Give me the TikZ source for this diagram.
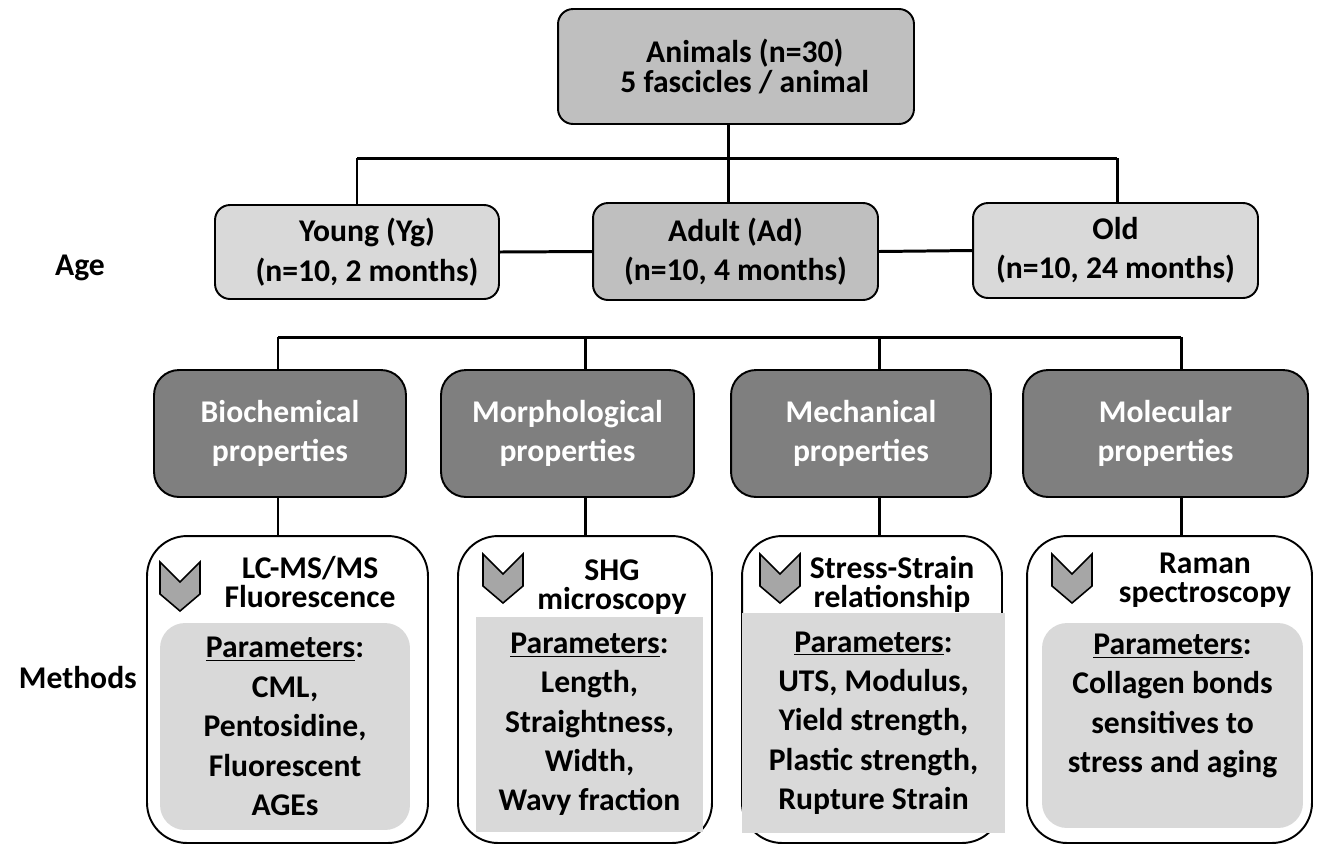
\documentclass[tikz,border=0pt]{standalone}
\usepackage{fontspec}
\setmainfont{Carlito}
\usepackage{tikz}
\usetikzlibrary{positioning}

\definecolor{boxmid}{HTML}{BFBFBF}
\definecolor{boxlight}{HTML}{D9D9D9}
\definecolor{boxdark}{HTML}{7F7F7F}
\definecolor{chevfill}{HTML}{A6A6A6}

\tikzset{
  conn/.style={line width=1.7pt},
  agebox/.style={draw, line width=1.1pt, rounded corners=0.3cm, align=center, inner sep=0pt},
  propbox/.style={draw, line width=1.1pt, fill=boxdark, text=white, rounded corners=0.5cm,
    align=center, minimum height=2.54cm, inner sep=0pt,
    execute at begin node={\rule{0pt}{20pt}}},
  methbox/.style={draw, line width=1.1pt, fill=white, rounded corners=0.8cm,
    minimum height=6.14cm, inner sep=0pt},
  parbox/.style={fill=boxlight, align=center, inner sep=0pt},
  headtext/.style={align=center, font=\fontsize{18}{16.6}\selectfont\bfseries},
  chevron/.style={draw, line width=0.9pt, fill=chevfill, line join=miter}
}

% chevron icon, #1/#2 = top left corner
\newcommand{\chev}[2]{\draw[chevron] (#1,#2) -- ++(20,20) -- ++(20,-20) -- ++(0,32)
  -- ++(-20,17) -- ++(-20,-17) -- cycle;}

\begin{document}
\begin{tikzpicture}[x=0.02cm, y=-0.02cm, font=\fontsize{18}{22.4}\selectfont\bfseries]
  \useasboundingbox (0,0) rectangle (1318,846);

  % animals and age groups
  \node[agebox, fill=boxmid, minimum width=7.12cm, minimum height=2.3cm,
    font=\fontsize{18}{17}\selectfont\bfseries] (animals) at (736,66.5)
    {\hspace*{0.35cm}Animals (n=30)\\\hspace*{0.35cm}5 fascicles / animal};
  \node[agebox, fill=boxlight, minimum width=5.68cm, minimum height=1.88cm] (young) at (357,252)
    {\hspace*{0.4cm}Young (Yg)\\\hspace*{0.4cm}(n=10, 2 months)};
  \node[agebox, fill=boxmid, minimum width=5.7cm, minimum height=1.94cm] (adult) at (735.5,251.5)
    {Adult (Ad)\\(n=10, 4 months)};
  \node[agebox, fill=boxlight, minimum width=5.7cm, minimum height=1.9cm] (old) at (1115.5,250.5)
    {Old\\(n=10, 24 months)};

  \node (age) at (80,268) {Age};
  \node[anchor=east] (methods) at (143,678) {Methods};

  \coordinate (b1w) at (357,158);
  \coordinate (b1e) at (1117,158);
  \draw[conn] (b1w) -- (b1e);
  \draw[conn] (animals.south -| 728,0) -- (adult.north -| 728,0);
  \draw[conn] (b1w) -- (young.north);
  \draw[conn] (b1e) -- (b1e |- old.north);
  \draw[conn] (young.east) -- (adult.west);
  \draw[conn] (adult.east) -- (old.west);

  % properties
  \node[propbox, minimum width=5.04cm] (bio) at (280,433.5) {Biochemical\\properties};
  \node[propbox, minimum width=5.06cm] (morph) at (567.5,433.5) {Morphological\\properties};
  \node[propbox, minimum width=5.2cm] (mech) at (861,433.5) {Mechanical\\properties};
  \node[propbox, minimum width=5.7cm] (molec) at (1165.5,433.5) {Molecular\\properties};

  % methods
  \node[methbox, minimum width=5.62cm] (lcms) at (287.5,689.5) {};
  \node[methbox, minimum width=5.08cm] (shg) at (585,689.5) {};
  \node[methbox, minimum width=5.2cm] (stst) at (872,689.5) {};
  \node[methbox, minimum width=5.7cm] (raman) at (1169.5,689.5) {};

  \node[parbox, rounded corners=0.5cm, minimum width=5cm, minimum height=4.14cm] (lcpar) at (285,726.5)
    {\underline{Parameters}:\\CML,\\Pentosidine,\\Fluorescent\\AGEs};
  \node[parbox, minimum width=4.54cm, minimum height=4.3cm] (shgpar) at (589.5,724.5)
    {\underline{Parameters}:\\Length,\\Straightness,\\Width,\\Wavy fraction};
  \node[parbox, minimum width=5.26cm, minimum height=4.4cm] (ststpar) at (873.5,723)
    {\underline{Parameters}:\\UTS, Modulus,\\Yield strength,\\Plastic strength,\\Rupture Strain};
  \node[parbox, rounded corners=0.5cm, minimum width=5.22cm, minimum height=4.1cm] (ramanpar) at (1172.5,725.5)
    {\underline{Parameters}:\\Collagen bonds\\sensitives to\\stress and aging\\[0.1cm]};

  \node[headtext] (lchead) at (310,582) {LC-MS/MS\\Fluorescence};
  \node[headtext] (shghead) at (612,587) {SHG\\microscopy};
  \node[headtext] (ststhead) at (892,584) {Stress-Strain\\relationship};
  \node[headtext] (ramanhead) at (1205,580) {Raman\\spectroscopy};

  \chev{160}{562}
  \chev{483}{554}
  \chev{760}{554}
  \chev{1052}{554}

  \coordinate (b2a) at (278,337);
  \coordinate (b2b) at (585,337);
  \coordinate (b2c) at (879,337);
  \coordinate (b2d) at (1181,337);
  \draw[conn] (b2a) -- (b2d);
  \foreach \c/\p/\m in {b2a/bio/lcms, b2b/morph/shg, b2c/mech/stst, b2d/molec/raman} {
    \draw[conn] (\c) -- (\c |- \p.north);
    \draw[conn] (\c |- \p.south) -- (\c |- \m.north);
  }
\end{tikzpicture}
\end{document}
